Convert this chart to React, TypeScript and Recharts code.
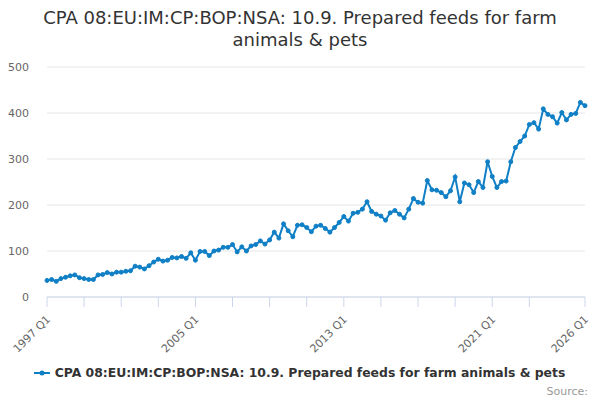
import { LineChart, Line, XAxis, YAxis, CartesianGrid, Legend } from 'recharts'

const SERIES_NAME = 'CPA 08:EU:IM:CP:BOP:NSA: 10.9. Prepared feeds for farm animals & pets'

// 1997 Q1 .. 2026 Q1
const quarters: string[] = []
for (let y = 1997; y <= 2026; y++) {
  for (let q = 1; q <= 4; q++) {
    if (y === 2026 && q > 1) break
    quarters.push(`${y} Q${q}`)
  }
}

const values = [
  36, 38, 34, 40, 43, 46, 48, 42, 40, 38, 38, 48, 49, 53, 50, 54,
  54, 56, 57, 67, 65, 61, 68, 76, 82, 78, 80, 86, 85, 88, 84, 96,
  80, 99, 99, 90, 100, 102, 108, 108, 114, 98, 109, 100, 111, 114, 122, 115,
  124, 141, 128, 159, 144, 131, 156, 157, 151, 142, 154, 156, 149, 141, 151, 162,
  175, 165, 182, 184, 191, 207, 186, 180, 176, 167, 183, 188, 180, 172, 191, 214,
  206, 204, 253, 233, 232, 227, 218, 231, 261, 207, 248, 244, 227, 251, 238, 294,
  262, 238, 251, 252, 294, 325, 338, 350, 375, 379, 365, 409, 397, 392, 378, 401,
  385, 397, 399, 423, 416,
]

const tickMarks = [
  '1997 Q1', '1999 Q1', '2001 Q1', '2003 Q1', '2005 Q1', '2007 Q1', '2009 Q1',
  '2011 Q1', '2013 Q1', '2015 Q1', '2017 Q1', '2019 Q1', '2021 Q1', '2023 Q1', '2026 Q1',
]
const tickLabels = ['1997 Q1', '2005 Q1', '2013 Q1', '2021 Q1', '2026 Q1']
const yTicks = [0, 100, 200, 300, 400, 500]

const data = quarters.map((quarter, i) => ({ quarter, value: values[i] }))

const FONT = '"DejaVu Sans", sans-serif'
const COLOR = '#0f7fc6'

function AngledTick({ x, y, payload }: any) {
  if (!tickLabels.includes(payload.value)) return null
  return (
    <text
      x={x + 4}
      y={y + 13}
      transform={`rotate(-45, ${x + 4}, ${y + 13})`}
      textAnchor="end"
      fontSize={11}
      fill="#666"
      fontFamily={FONT}
    >
      {payload.value}
    </text>
  )
}

function LegendContent() {
  return (
    <div style={{ display: 'flex', justifyContent: 'center', alignItems: 'center', fontFamily: FONT, paddingLeft: 14 }}>
      <svg width={16} height={10} style={{ marginRight: 5 }}>
        <line x1={0} y1={5} x2={16} y2={5} stroke={COLOR} strokeWidth={2} />
        <circle cx={8} cy={5} r={2.5} fill={COLOR} />
      </svg>
      <span style={{ fontSize: 12.4, fontWeight: 'bold', color: '#333' }}>{SERIES_NAME}</span>
    </div>
  )
}

export default function App() {
  return (
    <div style={{ position: 'absolute', left: 0, top: 0, width: 600, height: 400, background: '#fff', fontFamily: FONT }}>
      <div
        style={{
          position: 'absolute', left: 0, top: 7, width: 600, textAlign: 'center',
          fontSize: 18, lineHeight: '22px', color: '#333',
        }}
      >
        CPA 08:EU:IM:CP:BOP:NSA: 10.9. Prepared feeds for farm<br />animals &amp; pets
      </div>
      <LineChart width={600} height={400} data={data} margin={{ top: 67, right: 15, bottom: 58, left: 0 }}>
        <CartesianGrid vertical={false} stroke="#e6e6e6" />
        <XAxis
          dataKey="quarter"
          ticks={tickMarks}
          interval={0}
          tickSize={10}
          tickMargin={0}
          stroke="#ccd6eb"
          tick={<AngledTick />}
        />
        <YAxis
          width={47}
          domain={[0, 500]}
          ticks={yTicks}
          axisLine={false}
          tickLine={false}
          tick={{ fontSize: 11, fill: '#666', fontFamily: FONT }}
          tickMargin={12}
        />
        <Legend verticalAlign="bottom" wrapperStyle={{ bottom: 20 }} content={<LegendContent />} />
        <Line
          type="linear"
          dataKey="value"
          stroke={COLOR}
          strokeWidth={2}
          dot={{ r: 2, fill: COLOR, stroke: COLOR, strokeWidth: 1 }}
          isAnimationActive={false}
        />
      </LineChart>
      <div style={{ position: 'absolute', right: 12, top: 385, fontSize: 11, color: '#999' }}>Source:</div>
    </div>
  )
}
